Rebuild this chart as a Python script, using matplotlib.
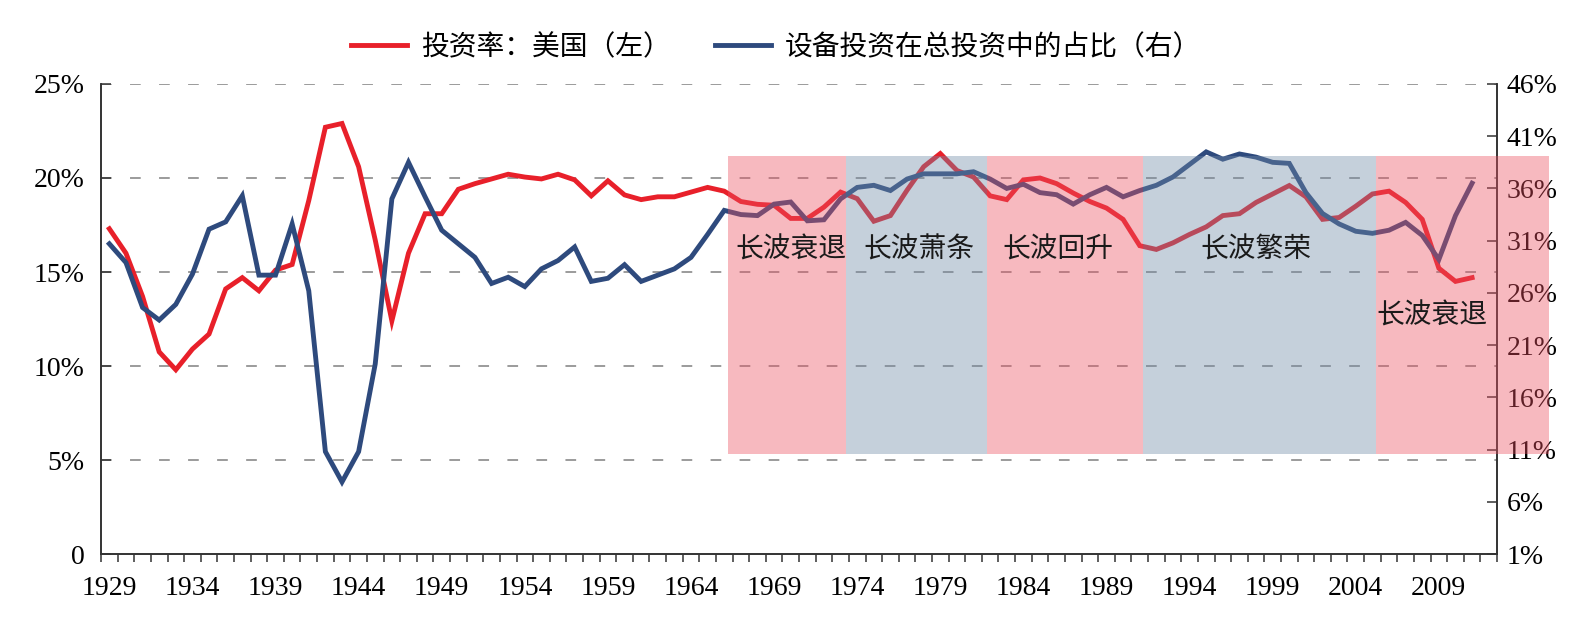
import matplotlib
matplotlib.use('Agg')
import matplotlib.pyplot as plt
from matplotlib.patches import Rectangle
from matplotlib.ticker import FixedLocator, FuncFormatter

# 数据
years = list(range(1929, 2012))

invest_rate = [
    17.3, 16.0, 13.7, 10.75, 9.8, 10.9, 11.7, 14.1, 14.7, 14.0,
    15.1, 15.4, 18.8, 22.7, 22.9, 20.6, 16.7, 12.4, 16.0, 18.1,
    18.1, 19.4, 19.7, 19.95, 20.2, 20.05, 19.95, 20.2, 19.9, 19.05,
    19.85, 19.1, 18.85, 19.0, 19.0, 19.25, 19.5, 19.3, 18.75, 18.6,
    18.55, 17.85, 17.85, 18.45, 19.25, 18.9, 17.7, 18.0, 19.35, 20.6,
    21.3, 20.4, 20.05, 19.05, 18.85, 19.9, 20.0, 19.7, 19.2, 18.75,
    18.4, 17.8, 16.4, 16.2, 16.55, 17.0, 17.4, 18.0, 18.1, 18.7,
    19.15, 19.6, 19.0, 17.8, 17.9, 18.5, 19.15, 19.3, 18.7, 17.8,
    15.2, 14.5, 14.7,
]

equip_share = [
    30.7, 28.9, 24.6, 23.4, 24.9, 27.8, 32.1, 32.8, 35.3, 27.7,
    27.7, 32.6, 26.2, 10.8, 7.9, 10.8, 19.2, 35.0, 38.5, 35.2,
    32.0, 30.7, 29.4, 26.9, 27.5, 26.6, 28.3, 29.1, 30.4, 27.1,
    27.4, 28.7, 27.1, 27.7, 28.3, 29.4, 31.6, 33.9, 33.5, 33.4,
    34.5, 34.7, 32.9, 33.0, 35.0, 36.1, 36.3, 35.8, 36.9, 37.4,
    37.4, 37.4, 37.6, 36.9, 36.0, 36.4, 35.6, 35.4, 34.5, 35.4,
    36.1, 35.2, 35.8, 36.3, 37.1, 38.3, 39.5, 38.8, 39.3, 39.0,
    38.5, 38.4, 35.6, 33.6, 32.6, 31.9, 31.7, 32.0, 32.75, 31.5,
    29.2, 33.4, 36.5,
]

# 长波阶段
phase_start = [1966.25, 1973.3, 1981.8, 1991.2, 2005.2]
phase_end = [1973.3, 1981.8, 1991.2, 2005.2, 2015.6]
phase_kind = ['down', 'dep', 'up', 'boom', 'down']
phase_bottom, phase_top = 5.3, 21.17

labels_text = ['长波衰退', '长波萧条', '长波回升', '长波繁荣', '长波衰退']
labels_x = [1970.0, 1977.7, 1986.1, 1998.0, 2008.6]
labels_y = [16.2, 16.2, 16.2, 16.2, 12.7]

left_ticks = [0, 5, 10, 15, 20, 25]
right_ticks = [1, 6, 11, 16, 21, 26, 31, 36, 41, 46]
year_labels = list(range(1929, 2010, 5))

RED = '#e8202a'
BLUE = '#2e4a7d'
phase_colors = {'down': '#eb5061', 'up': '#eb5061', 'dep': '#708aa7', 'boom': '#708aa7'}

cjk = ['Noto Sans CJK SC', 'DejaVu Sans']
serif = 'Liberation Serif'

fig = plt.figure(figsize=(15.86, 6.19), dpi=100)
ax = fig.add_axes([0.0637, 0.105, 0.8802, 0.7593])
ax2 = ax.twinx()

l1, = ax.plot(years, invest_rate, color=RED, lw=3.5, solid_joinstyle='miter',
              label='投资率：美国（左）', zorder=2)
l2, = ax2.plot(years, equip_share, color=BLUE, lw=3.5, solid_joinstyle='miter',
               label='设备投资在总投资中的占比（右）', zorder=2)

# 阴影区画在两条线之上（半透明）
for x0, x1, k in zip(phase_start, phase_end, phase_kind):
    r = Rectangle((x0, phase_bottom), x1 - x0, phase_top - phase_bottom,
                  transform=ax.transData, facecolor=phase_colors[k],
                  edgecolor='none', alpha=0.4, zorder=3, clip_on=False)
    ax2.add_patch(r)

for t, x, y in zip(labels_text, labels_x, labels_y):
    ax2.text(x, y, t, transform=ax.transData, ha='center', va='center',
             fontsize=20, family=cjk, color='#1a1a1a', zorder=4)

ax.set_xlim(1928.5, 2012.5)
ax.set_ylim(0, 25)
ax2.set_ylim(1, 46)

# 网格
for v in left_ticks[1:]:
    ax.axhline(v, color='#808080', lw=1.1, linestyle=(0, (7, 12)), zorder=1)

# x 轴：类别边界画刻度，标签居中
ax.xaxis.set_major_locator(FixedLocator(year_labels))
ax.xaxis.set_minor_locator(FixedLocator([1928.5 + i for i in range(85)]))
ax.tick_params(axis='x', which='major', length=0, pad=16, labelsize=20)
ax.tick_params(axis='x', which='minor', length=6, width=1.1, direction='out', color='#333333')
for lab in ax.get_xticklabels():
    lab.set_fontfamily(serif)

ax.set_yticks(left_ticks)
ax.yaxis.set_major_formatter(FuncFormatter(lambda v, p: '0' if v == 0 else f'{int(v)}%'))
ax.tick_params(axis='y', direction='in', length=7, width=1.1, pad=12, labelsize=20, color='#333333')
for lab in ax.get_yticklabels():
    lab.set_fontfamily(serif)

ax2.set_yticks(right_ticks)
ax2.yaxis.set_major_formatter(FuncFormatter(lambda v, p: f'{int(v)}%'))
ax2.tick_params(axis='y', direction='in', length=7, width=1.1, pad=7, labelsize=20, color='#333333')
for lab in ax2.get_yticklabels():
    lab.set_fontfamily(serif)

for a in (ax, ax2):
    a.spines['top'].set_visible(False)
    for s in ('left', 'right', 'bottom'):
        a.spines[s].set_color('#333333')
        a.spines[s].set_linewidth(1.2)

fig.legend(handles=[l1, l2], loc='center', bbox_to_anchor=(776 / 1586, 1 - 47 / 619),
           ncol=2, frameon=False, handlelength=2.0, handletextpad=0.5,
           columnspacing=1.6, prop={'family': cjk, 'size': 20})

fig.savefig('out.png', dpi=100)
